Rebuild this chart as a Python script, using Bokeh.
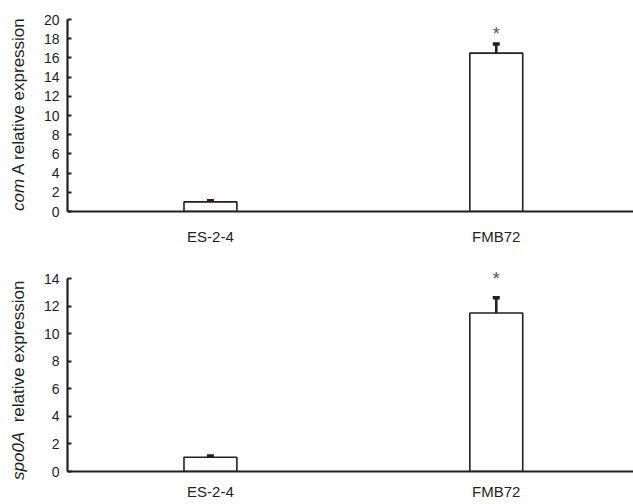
from bokeh.plotting import figure
from bokeh.layouts import column, row
from bokeh.models import (ColumnDataSource, Range1d, FixedTicker, Whisker, TeeHead, Div)
from bokeh.core.properties import value
from bokeh.embed import file_html
from bokeh.resources import INLINE

# ---- data ----
strains = ["ES-2-4", "FMB72"]
comA_mean = [1.0, 16.5]
comA_err = [0.12, 0.95]
spo0A_mean = [1.03, 11.5]
spo0A_err = [0.1, 1.1]
significant = ["", "*"]
comA_yticks = [0, 2, 4, 6, 8, 10, 12, 14, 16, 18, 20]
spo0A_yticks = [0, 2, 4, 6, 8, 10, 12, 14]
comA_title = ("com", " A relative expression")
spo0A_title = ("spo0A", "&nbsp; relative expression")

FONT = "Liberation Sans"
INK = "#231f20"
LAB_W = 40
xs = [i + 0.5 for i in range(len(strains))]


def title_div(height, start_px, parts):
    """Rotated y-axis title with an italic gene name."""
    html = (
        f'<div style="padding-top:{start_px}px;padding-left:10px;">'
        f'<div style="transform:rotate(-90deg);transform-origin:0 0;white-space:nowrap;'
        f"font-family:'{FONT}';font-size:17px;line-height:17px;height:17px;width:10px;color:{INK};\">"
        f"<i>{parts[0]}</i>{parts[1]}</div></div>"
    )
    return Div(text=html, width=LAB_W, height=height, margin=0,
               styles={"overflow": "visible"})


def panel(means, errs, yticks, y_end, height, top_border, bottom_border, star_offset, x_standoff):
    p = figure(width=633 - LAB_W, height=height, output_backend="svg", toolbar_location=None,
               x_range=Range1d(0, 1.98), y_range=Range1d(yticks[0], y_end),
               min_border_left=66 - LAB_W, min_border_right=0,
               min_border_top=top_border, min_border_bottom=bottom_border)
    p.outline_line_color = None
    p.xgrid.visible = False
    p.ygrid.visible = False
    src = ColumnDataSource(dict(x=xs, top=means, upper=[m + e for m, e in zip(means, errs)],
                                star=significant))
    p.vbar(x="x", top="top", width=0.185, source=src, fill_color="white",
           line_color=INK, line_width=1.6)
    p.add_layout(Whisker(source=src, base="x", lower="top", upper="upper",
                         line_color=INK, line_width=2.6, lower_head=None,
                         upper_head=TeeHead(size=7, line_width=3.5, line_color=INK)))
    p.text(x="x", y="upper", text="star", source=src, text_align="center",
           text_baseline="alphabetic", y_offset=-star_offset,
           text_font=value(FONT), text_font_size="18px", text_color="#555555")

    xa = p.xaxis[0]
    xa.ticker = FixedTicker(ticks=xs)
    xa.major_label_overrides = {x: s for x, s in zip(xs, strains)}
    xa.major_tick_in = 0
    xa.major_tick_out = 0
    xa.minor_tick_in = 0
    xa.minor_tick_out = 0
    xa.axis_line_width = 2.2
    xa.axis_line_color = INK
    xa.major_label_text_font = FONT
    xa.major_label_text_font_size = "15px"
    xa.major_label_text_color = INK
    xa.major_label_standoff = x_standoff

    ya = p.yaxis[0]
    ya.ticker = FixedTicker(ticks=yticks)
    ya.bounds = (yticks[0], yticks[-1])
    ya.major_tick_in = 4
    ya.major_tick_out = 0
    ya.major_tick_line_width = 2
    ya.major_tick_line_color = INK
    ya.minor_tick_in = 0
    ya.minor_tick_out = 0
    ya.axis_line_width = 2.2
    ya.axis_line_color = INK
    ya.major_label_text_font = FONT
    ya.major_label_text_font_size = "14px"
    ya.major_label_text_color = INK
    ya.major_label_standoff = 8
    return p


p1 = panel(comA_mean, comA_err, comA_yticks, 20, 248, 19, 37, 9.5, 16)
p2 = panel(spo0A_mean, spo0A_err, spo0A_yticks, 14.8, 256, 19, 33, 18.5, 11)
d1 = title_div(248, 211, comA_title)
d2 = title_div(256, 232, spo0A_title)

layout = column(row(d1, p1, spacing=0), row(d2, p2, spacing=0), spacing=0)
open("out.html", "w").write(file_html(layout, INLINE))
